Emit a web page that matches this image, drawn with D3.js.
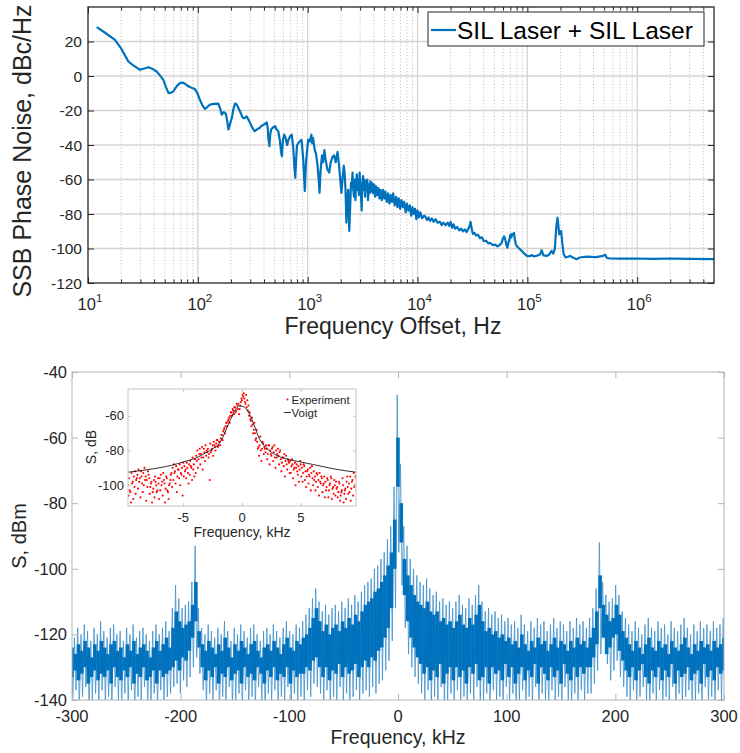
<!DOCTYPE html>
<html>
<head>
<meta charset="utf-8">
<script src="https://cdn.jsdelivr.net/npm/d3@7"></script>
<style>
  body { margin: 0; background: #fff; }
  svg { display: block; font-family: "Liberation Sans", Arial, Helvetica, sans-serif; }
</style>
</head>
<body>
<svg id="chart" width="740" height="753"></svg>
<script>
// ---- top panel: SSB phase noise, [offset Hz, dBc/Hz] ----
const phaseNoise = [
  [12, 28.3], [14, 25.5], [17.6, 20.9], [20, 16], [23.3, 8.4], [26, 6], [29.8, 3.6], [32, 4.2], [35.5, 5.1], [39, 4],
  [42.2, 2.6], [45, 0.5], [48.5, -2.2], [51, -6], [54, -9.9], [57, -9.6], [59.8, -9], [64, -6], [68.8, -4.1], [72, -3.8],
  [76.4, -4.5], [80, -5.5], [84.6, -6.4], [89, -7], [94.2, -7.6], [99, -10], [104.5, -13.8], [110, -17], [116, -19], [122, -18],
  [129, -16.6], [140, -16.2], [153.6, -16], [160, -19], [165, -22.4], [172, -21], [180, -22], [185, -26], [190, -31], [196, -28],
  [204, -24.3], [211, -19], [218, -16], [226, -16.5], [234, -18.5], [244, -21], [255, -24], [265, -24.5], [278, -23.4], [293, -26],
  [309, -29.2], [320, -31], [330, -32], [345, -31], [367, -30], [378, -29], [390, -28.5], [405, -28], [424, -26.9], [432, -30],
  [440, -37], [448, -40.7], [456, -34], [465, -31], [480, -30], [505, -29], [520, -31], [540, -32], [560, -38], [572, -44],
  [582, -46.5], [595, -37], [612, -34], [630, -36], [650, -40], [668, -37], [690, -35], [715, -34], [740, -42], [755, -52],
  [771, -59], [785, -48], [800, -40], [840, -38], [880, -37], [910, -48], [941, -66.7], [965, -50], [1010, -36.9], [1045, -38],
  [1080, -34], [1100, -39], [1120, -36], [1160, -43], [1190, -45], [1230, -52], [1265, -62], [1282, -67.7], [1310, -55], [1350, -46],
  [1380, -50], [1420, -43], [1460, -49], [1510, -54], [1570, -56], [1620, -50], [1680, -47], [1740, -46], [1800, -50], [1870, -44],
  [1930, -52], [1980, -60], [2030, -67.7], [2080, -59], [2130, -52], [2170, -56], [2210, -66], [2250, -85], [2300, -70], [2340, -66],
  [2390, -89.8], [2440, -75], [2480, -62], [2520, -64], [2560, -56], [2600, -66], [2640, -70], [2680, -60], [2720, -72], [2760, -62],
  [2800, -57], [2850, -66], [2890, -60], [2930, -69], [2970, -56], [3010, -64], [3050, -68], [3100, -78], [3140, -63], [3190, -58],
  [3230, -66], [3280, -60], [3330, -70], [3380, -61], [3440, -65], [3490, -60], [3540, -72], [3600, -63], [3660, -68], [3720, -61],
  [3790, -67], [3860, -62], [3950, -68], [4030, -63], [4120, -70], [4200, -64], [4300, -69], [4400, -65], [4500, -71], [4600, -66],
  [4720, -72], [4850, -66], [4980, -71], [5100, -67], [5250, -73], [5400, -68], [5550, -74], [5700, -69], [5850, -73], [6000, -68],
  [6200, -75], [6400, -70], [6560, -76], [6750, -71], [6950, -77], [7150, -72], [7350, -76], [7550, -73], [7800, -79], [8000, -74],
  [8250, -78], [8500, -75], [8750, -81], [9000, -76], [9250, -80], [9500, -77], [9750, -83], [10000, -78], [10300, -82], [10600, -79],
  [11000, -82.5], [11500, -81], [11800, -81.5], [12200, -83.5], [12600, -82], [13000, -84], [13500, -82.5], [14000, -84.5], [14600, -83], [15200, -85],
  [16000, -84.5], [16600, -86.5], [17200, -85], [18000, -86.5], [18800, -85], [19500, -87], [20000, -84.5], [20700, -88], [21300, -86], [22000, -88.5],
  [23000, -87.5], [24000, -89.5], [25000, -88.5], [26000, -90], [27000, -89], [28000, -90.5], [29000, -88.5], [29800, -87], [30400, -84.5], [31000, -88],
  [31900, -91.5], [33000, -91], [34000, -92.5], [35500, -92], [37000, -94], [38500, -93.5], [40100, -95.7], [42000, -95.5], [44000, -97], [46000, -96.8],
  [48500, -98], [51000, -97.8], [53500, -98.8], [56000, -98], [58400, -96.6], [60000, -94], [61500, -93], [63000, -95], [64500, -98], [65800, -99.5],
  [67000, -97], [68500, -95], [70000, -92], [71500, -93.5], [72500, -91.5], [74000, -92], [75500, -91], [77000, -95], [78500, -97.5], [80000, -98.6],
  [84000, -100], [89000, -101.4], [94000, -103], [98900, -104.3], [105000, -104.5], [110000, -103.8], [114000, -104.6], [122000, -104.2], [131000, -103.3], [135000, -101],
  [140000, -104], [150000, -104.3], [158000, -103.5], [166000, -101.4], [172000, -103], [178000, -100], [183000, -88], [188000, -82.1], [191000, -86], [195000, -91.8],
  [199000, -90], [203000, -89.9], [208000, -97], [214000, -103.3], [223000, -105.2], [245000, -104.3], [265000, -105.5], [280000, -106.2], [300000, -105.2], [346000, -104.7],
  [420000, -105], [489000, -104.3], [510000, -103.5], [530000, -105.5], [560000, -105.7], [700000, -105.9], [977000, -105.8], [1400000, -106], [1970000, -105.8], [3000000, -106],
  [5000000, -106.2]];
const pnYTicks = [-120, -100, -80, -60, -40, -20, 0, 20];
const pnDecades = [1, 2, 3, 4, 5, 6];
const pnLegend = "SIL Laser + SIL Laser";

// ---- bottom panel: beat-note spectrum per 3-kHz bin ----
// specHigh / specLow: extreme excursions of the trace; coreHigh / coreLow: its dense band
const specFreq = d3.range(-300, 301, 3);
const specHigh = [-119, -121, -118, -120, -117, -119, -122, -118, -120, -116, -119, -121, -118, -117, -120, -119, -122, -118, -120, -117,
  -121, -119, -118, -120, -122, -119, -117, -120, -118, -116, -119,
  -112, -105, -109, -112, -111, -110, -104, -93, -112, -118,
  -120, -117, -119, -121, -118, -120, -116, -119, -122, -118, -120, -117, -119, -121, -118, -117, -120, -122, -119, -118,
  -120, -117, -119, -121, -118, -116, -119, -120, -117, -118,
  -116, -114, -112, -109, -106, -110, -113, -111, -114, -112, -111, -113, -110, -112, -109, -111, -108, -110, -107, -105,
  -104, -103, -100, -99, -97, -95, -91, -87, -75, -47, -68, -87, -93, -97, -100, -102, -104, -105, -103, -106,
  -108, -107, -110, -109, -111, -110, -112, -110, -108, -111, -112, -109, -111, -108, -105, -110, -113, -112, -114, -113,
  -115, -114, -116,
  -115, -117, -116, -118, -114, -117, -119, -116, -118, -115, -117, -116, -119, -117, -115, -118, -116, -117, -119, -116,
  -118, -115, -117, -116, -118,
  -115, -112, -106, -92, -104, -108, -110, -109, -105, -108, -113, -115,
  -117, -119, -116, -118, -120, -117, -115, -118, -119, -116, -118, -117, -120, -116, -118, -119, -117, -115, -118, -120,
  -117, -119, -116, -118, -117, -119, -116, -118, -117, -115];
const specLow = [-141, -137, -142, -139, -136, -143, -140, -138, -142, -137, -141, -139, -143, -136, -140, -142, -138, -141, -137, -143,
  -139, -140, -136, -142, -141, -138, -143, -137, -140, -139, -138,
  -136, -135, -138, -134, -136, -133, -130, -127, -132, -137,
  -142, -138, -140, -137, -143, -139, -141, -136, -142, -140, -138, -143, -137, -141, -139, -142, -136, -140, -143, -138,
  -141, -137, -142, -139, -140, -136, -143, -138, -141, -139,
  -140, -137, -139, -135, -136, -138, -141, -137, -142, -139, -140, -136, -142, -138, -141, -139, -137, -142, -138, -137,
  -139, -136, -138, -135,
  -134, -131, -128, -122, -112, -95, -105, -118, -126, -130, -133, -135, -138,
  -140, -137, -142, -139, -141, -136, -143, -140, -138, -142, -137, -141, -139, -143, -138, -140, -136, -142, -141, -138,
  -143, -137, -140, -139, -142, -136, -141, -138, -143, -140, -137, -142, -139, -141, -136, -143, -138, -140, -142, -137,
  -141, -139, -143, -136, -140, -142, -138, -141, -137, -140, -138,
  -138, -135, -131, -126, -121, -129, -134, -131, -128, -133, -136, -139,
  -141, -137, -142, -139, -136, -140, -143, -138, -141, -137, -142, -139, -140, -136, -143, -138, -141, -139, -137, -142,
  -140, -138, -143, -136, -141, -139, -142, -137, -140, -138];
const coreHigh = [-124, -126, -123, -125, -122, -124, -127, -123, -125, -122, -124, -126, -123, -122, -125, -124, -127, -123, -125, -122,
  -126, -124, -123, -125, -127, -124, -122, -125, -123, -121, -124,
  -118, -113, -116, -118, -117, -116, -111, -104, -119, -123,
  -125, -122, -124, -126, -123, -125, -121, -124, -127, -123, -125, -122, -124, -126, -123, -122, -125, -127, -124, -123,
  -125, -122, -124, -126, -123, -121, -124, -125, -122, -123,
  -121, -120, -118, -115, -112, -116, -119, -117, -120, -118, -117, -119, -116, -118, -115, -117, -114, -116, -113, -111,
  -110, -109, -107, -106, -104, -102, -99, -95, -85, -60, -80, -97, -102, -105, -108, -110, -111, -112, -110, -113,
  -114, -113, -116, -115, -117, -116, -118, -116, -114, -117, -118, -115, -117, -114, -111, -116, -119, -118, -120, -119,
  -121, -120, -122,
  -121, -123, -122, -124, -120, -123, -125, -122, -124, -121, -123, -122, -125, -123, -121, -124, -122, -123, -125, -122,
  -124, -121, -123, -122, -124,
  -121, -118, -113, -102, -111, -114, -116, -115, -111, -114, -119, -121,
  -123, -125, -122, -124, -126, -123, -121, -124, -125, -122, -124, -123, -126, -122, -124, -125, -123, -121, -124, -126,
  -123, -125, -122, -124, -123, -125, -122, -124, -123, -121];
const coreLow = [-133, -131, -134, -132, -130, -135, -133, -131, -134, -132, -133, -131, -135, -130, -133, -134, -131, -133, -130, -135,
  -132, -133, -130, -134, -133, -131, -135, -131, -133, -132, -131,
  -130, -128, -131, -127, -128, -125, -121, -116, -124, -130,
  -134, -131, -133, -130, -135, -132, -133, -130, -134, -132, -131, -135, -130, -133, -132, -134, -130, -132, -135, -131,
  -133, -130, -134, -132, -133, -130, -135, -131, -133, -132,
  -132, -130, -131, -128, -127, -130, -133, -130, -134, -131, -132, -129, -133, -130, -132, -131, -129, -133, -130, -128,
  -130, -127, -128, -125,
  -124, -121, -118, -112, -100, -75, -92, -108, -116, -121, -124, -127, -129,
  -132, -130, -134, -131, -133, -129, -135, -132, -130, -134, -130, -133, -131, -135, -130, -132, -129, -134, -133, -130,
  -135, -130, -132, -131, -134, -129, -133, -130, -135, -132, -130, -134, -131, -133, -129, -135, -130, -132, -134, -130,
  -133, -131, -135, -129, -132, -134, -130, -133, -130, -132, -130,
  -130, -127, -123, -112, -121, -126, -124, -121, -120, -125, -128, -131,
  -133, -130, -134, -131, -129, -133, -135, -131, -133, -130, -134, -131, -133, -129, -135, -131, -133, -132, -130, -134,
  -132, -131, -135, -129, -133, -131, -134, -130, -132, -131];
const specXTicks = [-300, -200, -100, 0, 100, 200, 300];
const specYTicks = [-140, -120, -100, -80, -60, -40];

// ---- inset: zoom on the central line (two samples per 0.1 kHz step) ----
const expFreq = d3.range(195).map(i => -9.7 + i * 0.1);
const expA = [-100, -96, -104, -93, -98, -95, -92, -97,
  -94, -91, -96, -92, -99, -93, -90, -95, -97, -92,
  -96, -101, -98, -104, -97, -95, -100, -103, -99, -96,
  -94, -98, -93, -99, -102, -96, -104, -100, -97, -93,
  -90, -88, -92, -89, -95, -91, -88, -93, -90, -87,
  -89, -91, -87, -93, -88, -86, -90, -84, -88, -85,
  -83, -80, -85, -79, -82, -78, -84, -81, -77, -80,
  -79, -82, -76, -80, -77, -75, -78, -76, -74, -77,
  -75, -73, -71, -69, -67, -66, -64, -63, -61, -60,
  -58, -56, -59, -55, -57, -54, -53, -56, -52, -51,
  -49, -50, -53, -55, -57, -60, -62, -66, -65, -68,
  -70, -73, -75, -78, -77, -80, -79, -76, -78, -81,
  -79, -82, -77, -80, -83, -78, -81, -84, -80, -82,
  -83, -81, -85, -87, -84, -82, -86, -88, -85, -87,
  -86, -89, -88, -91, -87, -90, -92, -89, -91, -88,
  -90, -93, -89, -92, -95, -91, -94, -90, -93, -96,
  -92, -95, -98, -94, -97, -93, -99, -96, -100, -95,
  -98, -101, -97, -103, -99, -96, -102, -105, -100, -98,
  -101, -104, -99, -106, -103, -100, -105, -102, -98, -101,
  -99, -95, -102, -97, -93, -100, -96];
const expB = [-106, -103, -110, -99, -108, -101, -105, -96,
  -102, -98, -107, -95, -104, -100, -97, -109, -101, -94,
  -105, -99, -110, -102, -107, -98, -104, -96, -108, -103,
  -100, -106, -97, -110, -95, -103, -108, -99, -94, -101,
  -97, -93, -99, -104, -91, -96, -100, -94, -106, -95,
  -92, -96, -90, -99, -94, -89, -97, -91, -95, -93,
  -86, -90, -82, -88, -84, -91, -79, -86, -83, -81,
  -84, -97, -81, -79, -83, -77, -80, -74, -78, -75,
  -77, -71, -74, -68, -70, -64, -66, -62, -64, -58,
  -60, -57, -55, -58, -53, -56, -59, -54, -50, -48,
  -47, -52, -48, -51, -54, -58, -63, -61, -70, -64,
  -74, -68, -79, -83, -72, -86, -75, -82, -79, -77,
  -85, -77, -88, -82, -79, -86, -77, -90, -84, -79,
  -88, -80, -92, -84, -89, -95, -83, -91, -86, -93,
  -93, -85, -96, -90, -100, -88, -94, -98, -86, -95,
  -98, -88, -97, -101, -92, -99, -95, -103, -89, -100,
  -97, -103, -93, -101, -106, -98, -95, -104, -99, -107,
  -103, -96, -107, -100, -95, -108, -101, -97, -106, -102,
  -107, -98, -109, -104, -96, -110, -103, -108, -95, -105,
  -104, -109, -98, -106, -101, -95, -103];
const voigtFreq = [-9.7, -8, -6, -5, -4, -3, -2.5, -2, -1.6, -1.3, -1, -0.7, -0.4, -0.2, 0, 0.3, 0.6, 0.9, 1.2, 1.5,
  2, 2.5, 3, 4, 5, 6, 8, 9.7];
const voigtLevel = [-92.5, -91, -88.5, -86.6, -84.5, -81, -79, -76.5, -72, -67, -62.5, -58, -55, -54.3, -54.5, -55.5, -58.5, -63, -68.5, -73.5,
  -78, -81, -83, -85.2, -86.6, -88, -90.8, -92.5];
const insXTicks = [-5, 0, 5];
const insYTicks = [-100, -80, -60];

const blue = "#0072BD";
const ink = "#262626";
const svg = d3.select("#chart");
const defs = svg.append("defs");

// ================= top panel =================
const pnBox = { left: 88, right: 714, top: 7, bottom: 283 };
const xPN = d3.scaleLog().domain([10, 5e6]).range([pnBox.left, pnBox.right]);
const yPN = d3.scaleLinear().domain([-120, 40]).range([pnBox.bottom, pnBox.top]);

const majors = pnDecades.map(d => Math.pow(10, d));
const minors = [];
pnDecades.forEach(d => {
  for (let k = 2; k <= 9; k++) {
    const v = k * Math.pow(10, d);
    if (v < 5e6) minors.push(v);
  }
});

const gPN = svg.append("g");

// grid
gPN.selectAll(".minor").data(minors).enter().append("line")
  .attr("x1", d => xPN(d)).attr("x2", d => xPN(d))
  .attr("y1", pnBox.top).attr("y2", pnBox.bottom)
  .attr("stroke", "#b8b8b8").attr("stroke-width", 0.8).attr("stroke-dasharray", "1.2,2");
gPN.selectAll(".major").data(majors.slice(1)).enter().append("line")
  .attr("x1", d => xPN(d)).attr("x2", d => xPN(d))
  .attr("y1", pnBox.top).attr("y2", pnBox.bottom)
  .attr("stroke", "#d4d4d4").attr("stroke-width", 1.3);
gPN.selectAll(".hgrid").data(pnYTicks.slice(1)).enter().append("line")
  .attr("x1", pnBox.left).attr("x2", pnBox.right)
  .attr("y1", d => yPN(d)).attr("y2", d => yPN(d))
  .attr("stroke", "#d4d4d4").attr("stroke-width", 1.3);

// trace
gPN.append("path")
  .datum(phaseNoise)
  .attr("fill", "none")
  .attr("stroke", blue)
  .attr("stroke-width", 2.2)
  .attr("stroke-linejoin", "round")
  .attr("d", d3.line().x(d => xPN(d[0])).y(d => yPN(d[1])));

// axes (ticks inside, box on)
const tickAxis = (axis, tx, ty) => gPN.append("g")
  .attr("transform", `translate(${tx},${ty})`)
  .call(axis)
  .call(g => g.select(".domain").remove())
  .call(g => g.selectAll("line").attr("stroke", ink));

tickAxis(d3.axisBottom(xPN).tickValues(majors).tickSize(-6).tickFormat(""), 0, pnBox.bottom);
tickAxis(d3.axisBottom(xPN).tickValues(minors).tickSize(-3.5).tickFormat(""), 0, pnBox.bottom);
tickAxis(d3.axisTop(xPN).tickValues(majors).tickSize(-6).tickFormat(""), 0, pnBox.top);
tickAxis(d3.axisTop(xPN).tickValues(minors).tickSize(-3.5).tickFormat(""), 0, pnBox.top);
tickAxis(d3.axisLeft(yPN).tickValues(pnYTicks).tickSize(-6).tickFormat(""), pnBox.left, 0);
tickAxis(d3.axisRight(yPN).tickValues(pnYTicks).tickSize(-6).tickFormat(""), pnBox.right, 0);

gPN.append("rect")
  .attr("x", pnBox.left).attr("y", pnBox.top)
  .attr("width", pnBox.right - pnBox.left).attr("height", pnBox.bottom - pnBox.top)
  .attr("fill", "none").attr("stroke", ink).attr("stroke-width", 1.3);

// tick labels
gPN.selectAll(".ylab").data(pnYTicks).enter().append("text")
  .attr("x", pnBox.left - 6).attr("y", d => yPN(d) + 5.5)
  .attr("text-anchor", "end").attr("font-size", 15.5).attr("fill", ink)
  .text(d => d);
const xl = gPN.selectAll(".xlab").data(pnDecades).enter().append("text")
  .attr("x", d => xPN(Math.pow(10, d)) + 2).attr("y", 310)
  .attr("text-anchor", "middle").attr("font-size", 16.5).attr("fill", ink);
xl.append("tspan").text("10");
xl.append("tspan").attr("dy", -8).attr("font-size", 11.5).text(d => d);

gPN.append("text")
  .attr("transform", `translate(31,${(pnBox.top + pnBox.bottom) / 2 + 6}) rotate(-90)`)
  .attr("text-anchor", "middle").attr("font-size", 25).attr("fill", ink)
  .text("SSB Phase Noise, dBc/Hz");
gPN.append("text")
  .attr("x", 393).attr("y", 334)
  .attr("text-anchor", "middle").attr("font-size", 23).attr("fill", ink)
  .text("Frequency Offset, Hz");

// legend
const lg = gPN.append("g");
lg.append("rect").attr("x", 428).attr("y", 12).attr("width", 276).attr("height", 34)
  .attr("fill", "#fff").attr("stroke", ink).attr("stroke-width", 1);
lg.append("line").attr("x1", 431).attr("x2", 456).attr("y1", 30).attr("y2", 30)
  .attr("stroke", blue).attr("stroke-width", 2.2);
lg.append("text").attr("x", 457).attr("y", 39).attr("font-size", 24.5).attr("fill", "#000")
  .text(pnLegend);

// ================= bottom panel =================
const spBox = { left: 72, right: 724, top: 372, bottom: 700 };
const xS = d3.scaleLinear().domain([-300, 300]).range([spBox.left, spBox.right]);
const yS = d3.scaleLinear().domain([-140, -40]).range([spBox.bottom, spBox.top]);
const axisGray = "#b3b3b3";

const gS = svg.append("g");
defs.append("clipPath").attr("id", "spClip")
  .append("rect").attr("x", spBox.left).attr("y", spBox.top)
  .attr("width", spBox.right - spBox.left).attr("height", spBox.bottom - spBox.top);

const binW = xS(3) - xS(0);
const spG = gS.append("g").attr("clip-path", "url(#spClip)");
// thin trace running between the extremes
const specPts = specFreq.flatMap((f, i) => [[f - 0.7, specHigh[i]], [f + 0.7, specLow[i]]]);
spG.append("path")
  .datum(specPts)
  .attr("fill", "none")
  .attr("stroke", "#3d8fcc")
  .attr("stroke-width", 0.8)
  .attr("d", d3.line().x(d => xS(d[0])).y(d => yS(d[1])));
// dense band of each bin
spG.selectAll("rect").data(specFreq).enter().append("rect")
  .attr("x", d => xS(d) - binW / 2 - 0.15)
  .attr("width", binW + 0.3)
  .attr("y", (d, i) => yS(coreHigh[i]))
  .attr("height", (d, i) => yS(coreLow[i]) - yS(coreHigh[i]))
  .attr("fill", blue);

gS.append("rect")
  .attr("x", spBox.left).attr("y", spBox.top)
  .attr("width", spBox.right - spBox.left).attr("height", spBox.bottom - spBox.top)
  .attr("fill", "none").attr("stroke", axisGray).attr("stroke-width", 1);

const sAxis = (axis, tx, ty) => gS.append("g")
  .attr("transform", `translate(${tx},${ty})`)
  .call(axis)
  .call(g => g.select(".domain").remove())
  .call(g => g.selectAll("line").attr("stroke", axisGray));
sAxis(d3.axisBottom(xS).tickValues(specXTicks).tickSize(-6).tickFormat(""), 0, spBox.bottom);
sAxis(d3.axisTop(xS).tickValues(specXTicks).tickSize(-6).tickFormat(""), 0, spBox.top);
sAxis(d3.axisLeft(yS).tickValues(specYTicks).tickSize(-6).tickFormat(""), spBox.left, 0);
sAxis(d3.axisRight(yS).tickValues(specYTicks).tickSize(-6).tickFormat(""), spBox.right, 0);

gS.selectAll(".sy").data(specYTicks).enter().append("text")
  .attr("x", spBox.left - 5).attr("y", d => yS(d) + 6)
  .attr("text-anchor", "end").attr("font-size", 16.5).attr("fill", ink)
  .text(d => d);
gS.selectAll(".sx").data(specXTicks).enter().append("text")
  .attr("x", d => xS(d)).attr("y", 722)
  .attr("text-anchor", "middle").attr("font-size", 16.5).attr("fill", ink)
  .text(d => d);
gS.append("text")
  .attr("transform", `translate(26,536) rotate(-90)`)
  .attr("text-anchor", "middle").attr("font-size", 20).attr("fill", ink)
  .text("S, dBm");
gS.append("text")
  .attr("x", 398).attr("y", 744)
  .attr("text-anchor", "middle").attr("font-size", 19.5).attr("fill", ink)
  .text("Frequency, kHz");

// ================= inset =================
const inBox = { left: 128, right: 356, top: 389, bottom: 506 };
const xI = d3.scaleLinear().domain([-9.7, 9.7]).range([inBox.left, inBox.right]);
const yI = d3.scaleLinear().domain([-112, -44.5]).range([inBox.bottom, inBox.top]);
const gI = svg.append("g");
gI.append("rect")
  .attr("x", inBox.left).attr("y", inBox.top)
  .attr("width", inBox.right - inBox.left).attr("height", inBox.bottom - inBox.top)
  .attr("fill", "#fff");
defs.append("clipPath").attr("id", "inClip")
  .append("rect").attr("x", inBox.left).attr("y", inBox.top)
  .attr("width", inBox.right - inBox.left).attr("height", inBox.bottom - inBox.top);

const expPts = expFreq.flatMap((f, i) => [[f, expA[i]], [f + 0.05, expB[i]]]);
gI.append("g").attr("clip-path", "url(#inClip)")
  .selectAll("circle").data(expPts).enter().append("circle")
  .attr("cx", d => xI(d[0])).attr("cy", d => yI(d[1]))
  .attr("r", 1.05).attr("fill", "#ff0000");

const vData = voigtFreq.map((f, i) => [f, voigtLevel[i]]);
gI.append("path")
  .datum(vData)
  .attr("fill", "none").attr("stroke", "#1a1a1a").attr("stroke-width", 0.9)
  .attr("d", d3.line().curve(d3.curveMonotoneX).x(d => xI(d[0])).y(d => yI(d[1])));

gI.append("rect")
  .attr("x", inBox.left).attr("y", inBox.top)
  .attr("width", inBox.right - inBox.left).attr("height", inBox.bottom - inBox.top)
  .attr("fill", "none").attr("stroke", "#c4c4c4").attr("stroke-width", 1);
const iAxis = (axis, tx, ty) => gI.append("g")
  .attr("transform", `translate(${tx},${ty})`)
  .call(axis)
  .call(g => g.select(".domain").remove())
  .call(g => g.selectAll("line").attr("stroke", "#c4c4c4"));
iAxis(d3.axisBottom(xI).tickValues(insXTicks).tickSize(-3).tickFormat(""), 0, inBox.bottom);
iAxis(d3.axisTop(xI).tickValues(insXTicks).tickSize(-3).tickFormat(""), 0, inBox.top);
iAxis(d3.axisLeft(yI).tickValues(insYTicks).tickSize(-3).tickFormat(""), inBox.left, 0);
iAxis(d3.axisRight(yI).tickValues(insYTicks).tickSize(-3).tickFormat(""), inBox.right, 0);

gI.selectAll(".iy").data(insYTicks).enter().append("text")
  .attr("x", inBox.left - 4).attr("y", d => yI(d) + 4.5)
  .attr("text-anchor", "end").attr("font-size", 13).attr("fill", ink)
  .text(d => d);
gI.selectAll(".ix").data(insXTicks).enter().append("text")
  .attr("x", d => xI(d)).attr("y", 522)
  .attr("text-anchor", "middle").attr("font-size", 13).attr("fill", ink)
  .text(d => d);
gI.append("text")
  .attr("transform", `translate(96,447) rotate(-90)`)
  .attr("text-anchor", "middle").attr("font-size", 14).attr("fill", ink)
  .text("S, dB");
gI.append("text")
  .attr("x", 242).attr("y", 537)
  .attr("text-anchor", "middle").attr("font-size", 14).attr("fill", ink)
  .text("Frequency, kHz");

// inset legend
gI.append("circle").attr("cx", 287.5).attr("cy", 399.5).attr("r", 1).attr("fill", "#ff0000");
gI.append("text").attr("x", 291.5).attr("y", 403.5).attr("font-size", 11.5).attr("fill", ink).text("Experiment");
gI.append("line").attr("x1", 284).attr("x2", 291).attr("y1", 412.5).attr("y2", 412.5)
  .attr("stroke", "#1a1a1a").attr("stroke-width", 0.9);
gI.append("text").attr("x", 291.5).attr("y", 417).attr("font-size", 11.5).attr("fill", ink).text("Voigt");
</script>
</body>
</html>
